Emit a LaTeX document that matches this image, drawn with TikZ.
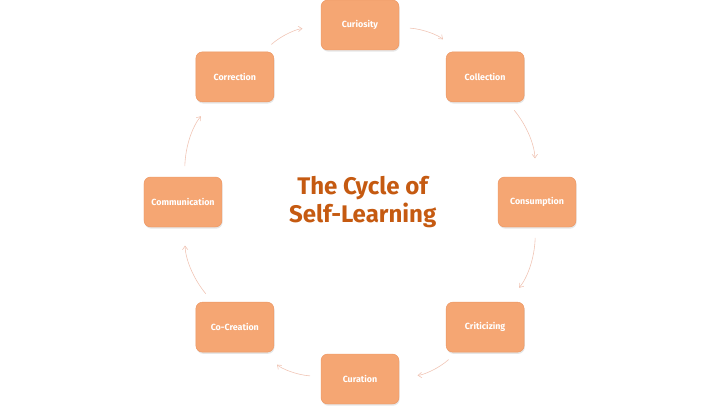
\documentclass[tikz,border=0pt]{standalone}
\usepackage{fontspec}
\setmainfont{Fira Sans}
\usepackage{xcolor}
\usetikzlibrary{arrows.meta,shadows}

\definecolor{boxfill}{RGB}{245,166,115}
\definecolor{boxedge}{RGB}{236,150,98}
\definecolor{arrowcol}{RGB}{240,196,180}
\definecolor{titlecol}{RGB}{197,90,17}

\begin{document}
\begin{tikzpicture}
  \tikzstyle{stage}=[rounded corners=0.2cm,fill=boxfill,draw=boxedge,line width=0.4pt,
    minimum width=2.34cm,minimum height=1.5cm,text=white,
    font=\fontsize{7.6}{9}\selectfont\bfseries,
    drop shadow={opacity=0.2,shadow xshift=0.02cm,shadow yshift=-0.05cm}]
  \tikzstyle{cycle arrow}=[draw=arrowcol,line width=0.5pt,
    -{Straight Barb[length=1.1mm,width=1.6mm]},bend left=19,
    shorten <=0.32cm,shorten >=0.55cm]

  \useasboundingbox (-10.8,-6.09) rectangle (10.8,6.06);

  \def\R{5.31}
  \node[stage] (curiosity) at (90:\R) {Curiosity};
  \node[stage] (collection) at (45:\R) {Collection};
  \node[stage] (consumption) at (0:\R) {Consumption};
  \node[stage] (criticizing) at (-45:\R) {Criticizing};
  \node[stage] (curation) at (-90:\R) {Curation};
  \node[stage] (cocreation) at (-135:\R) {Co-Creation};
  \node[stage] (communication) at (180:\R) {Communication};
  \node[stage] (correction) at (135:\R) {Correction};

  \node[align=center,text=titlecol,font=\fontsize{20.5}{24}\selectfont\bfseries]
    (title) at (0.08,0) {The Cycle of\\Self-Learning};

  % clockwise round the circle
  \draw[cycle arrow] (curiosity) to (collection);
  \draw[cycle arrow] (collection) to (consumption);
  \draw[cycle arrow] (consumption) to (criticizing);
  \draw[cycle arrow] (criticizing) to (curation);
  \draw[cycle arrow] (curation) to (cocreation);
  \draw[cycle arrow] (cocreation) to (communication);
  \draw[cycle arrow] (communication) to (correction);
  \draw[cycle arrow] (correction) to (curiosity);
\end{tikzpicture}
\end{document}
